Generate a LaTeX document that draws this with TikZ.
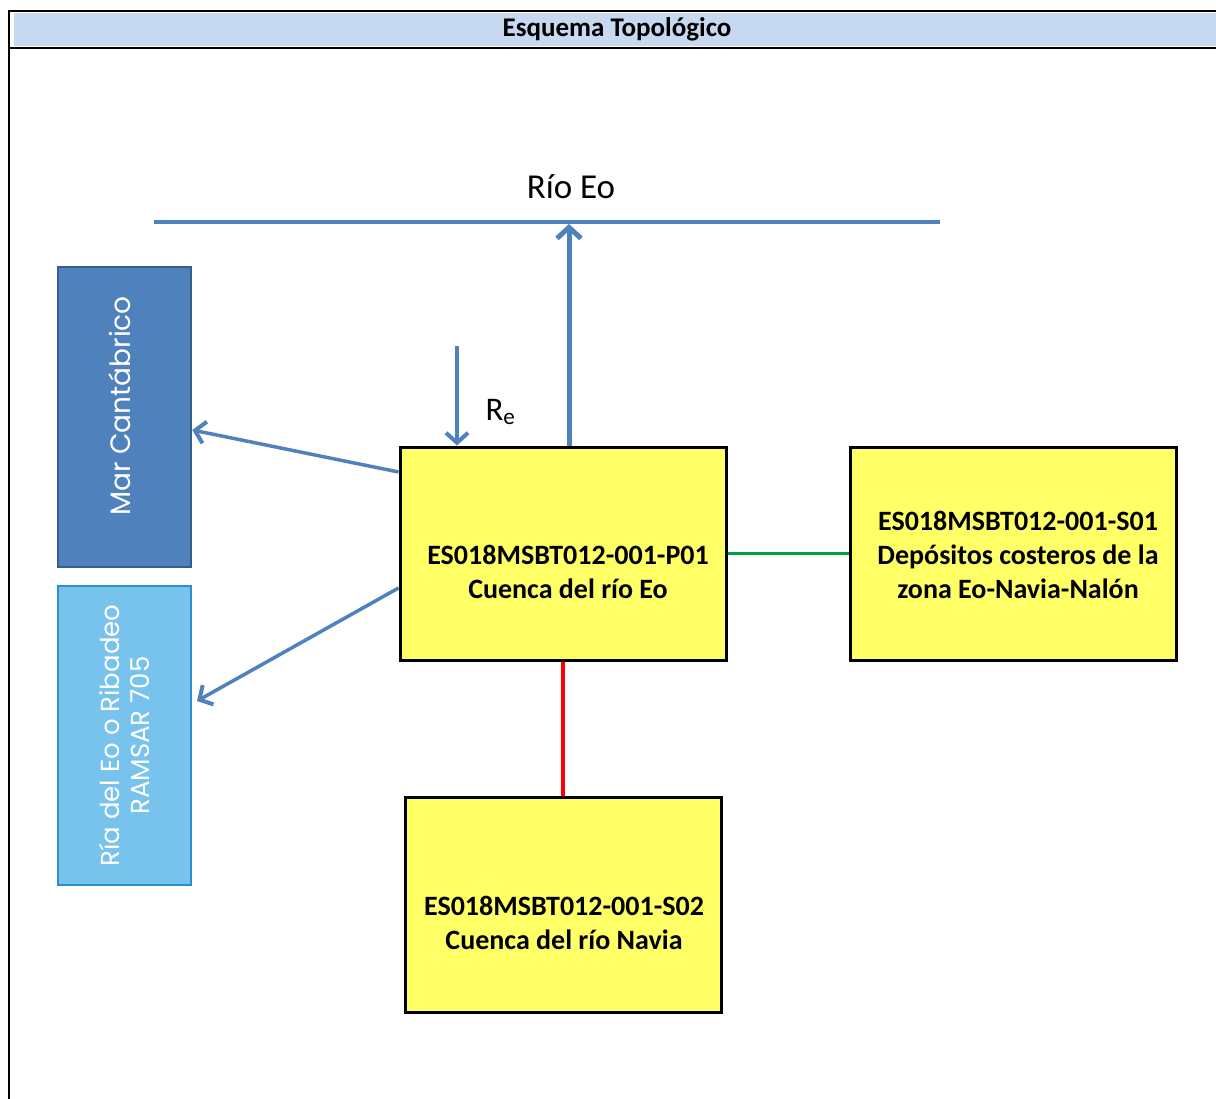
\documentclass[tikz,border=0pt]{standalone}
\usepackage{fontspec}
\setmainfont{Carlito}
\newfontfamily\geofont{Poppins}
\usetikzlibrary{arrows.meta}
\definecolor{hdr}{HTML}{C6D9F1}
\definecolor{ablue}{HTML}{4F81BD}
\definecolor{dblue}{HTML}{385D8A}
\definecolor{lblue}{HTML}{77C3EE}
\definecolor{lbord}{HTML}{2A8FD0}
\definecolor{ylw}{HTML}{FFFF66}
\definecolor{grn}{HTML}{00A04A}
\tikzset{
  ybox/.style={draw=black, line width=3pt, fill=ylw, inner sep=0pt},
  ytext/.style={font=\fontsize{28}{34}\selectfont\bfseries, align=center, inner sep=0pt},
  flow/.style={draw=ablue, line width=3.5pt, -{Straight Barb[length=10pt,width=22pt,line width=4pt]}},
  sidebox/.style={line width=2.5pt, inner sep=0pt},
  sidetext/.style={text=white, rotate=90, align=center},
}
\begin{document}
\begin{tikzpicture}[x=1pt,y=-1pt]
\useasboundingbox (0,0) rectangle (1216,1099);
% frame and header
\fill[hdr] (14,13) rectangle (1216,46);
\draw[line width=2pt] (8,11) -- (1216,11);
\draw[line width=2pt] (8,48) -- (1216,48);
\draw[line width=2pt] (9,10) -- (9,1099);
\node[font=\fontsize{27}{30}\selectfont\bfseries] (title) at (617,29) {Esquema Topológico};
% river
\coordinate (rl) at (154,222);
\coordinate (rr) at (940,222);
\draw[ablue, line width=3.5pt] (rl) -- (rr);
\node[font=\fontsize{35}{40}\selectfont] (rio) at (571,187) {Río Eo};
% side boxes
\node[sidebox, draw=dblue, fill=ablue, minimum width=133pt, minimum height=300pt] (mar) at (124.5,417) {};
\node[sidetext, font=\geofont\fontsize{28}{34}\selectfont] (martxt) at (120,406) {Mar Cantábrico};
\node[sidebox, draw=lbord, fill=lblue, minimum width=133pt, minimum height=299pt] (ria) at (124.5,735.5) {};
\node[sidetext, font=\geofont\fontsize{26}{30}\selectfont] (riatxt) at (ria.center) {Ría del Eo o Ribadeo\\RAMSAR 705};
% yellow boxes
\node[ybox, minimum width=326pt, minimum height=213pt] (p01) at (563,553.5) {};
\node[ytext] (p01txt) at (568,571.5) {ES018MSBT012-001-P01\\Cuenca del río Eo};
\node[ybox, minimum width=326pt, minimum height=213pt] (s01) at (1013,553.5) {};
\node[ytext] (s01txt) at (1018,555) {ES018MSBT012-001-S01\\Depósitos costeros de la\\zona Eo-Navia-Nalón};
\node[ybox, minimum width=316pt, minimum height=215pt] (s02) at (563,904.5) {};
\node[ytext] (s02txt) at (564,923) {ES018MSBT012-001-S02\\Cuenca del río Navia};
% connections
\draw[grn, line width=3.5pt] (p01.east) -- (s01.west);
\draw[red, line width=3.5pt] (p01.south) -- (s02.north);
\draw[flow, line width=5pt, -{Straight Barb[length=11pt,width=24pt,line width=5pt]}] (p01.north -| 569,0) -- (569,224);
\coordinate (retop) at (457,346);
\draw[flow] (retop) -- (p01.north -| retop);
\node[font=\fontsize{33}{38}\selectfont, anchor=west] (re) at (482,412) {R\textsubscript{e}};
\draw[flow] (p01.west |- 0,472) -- (mar.east |- 0,430);
\draw[flow] (p01.west |- 0,588) -- (197,701);
\end{tikzpicture}
\end{document}
